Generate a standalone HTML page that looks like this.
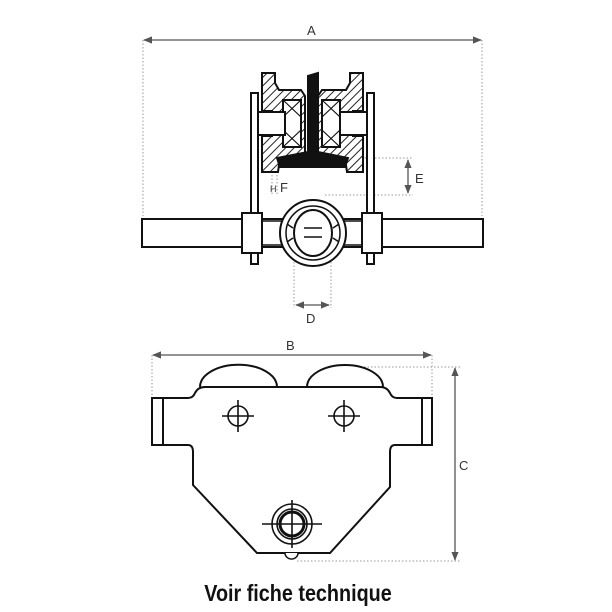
<!DOCTYPE html>
<html><head><style>body{margin:0;background:#fff}svg{display:block}</style></head><body>
<svg width="612" height="612" viewBox="0 0 612 612" xmlns="http://www.w3.org/2000/svg" font-family="Liberation Sans, sans-serif">
<defs>
<pattern id="h" width="6" height="6" patternUnits="userSpaceOnUse" patternTransform="rotate(45)"><rect width="6" height="6" fill="#fff"/><line x1="0" y1="0" x2="0" y2="6" stroke="#222" stroke-width="2"/></pattern>
<marker id="ar" viewBox="0 0 10 10" refX="9" refY="5" markerWidth="7" markerHeight="7" orient="auto-start-reverse"><path d="M0,1 L10,5 L0,9z" fill="#555"/></marker>
</defs>
<g fill="none" stroke="#999" stroke-width="1" stroke-dasharray="1.5,2">
<line x1="143" y1="40" x2="143" y2="216"/><line x1="482" y1="40" x2="482" y2="216"/>
<line x1="277" y1="158" x2="413" y2="158"/><line x1="325" y1="195" x2="413" y2="195"/>
<line x1="272" y1="168" x2="272" y2="195"/><line x1="277" y1="168" x2="277" y2="195"/>
<line x1="294" y1="262" x2="294" y2="308"/><line x1="331" y1="262" x2="331" y2="308"/>
<line x1="152" y1="355" x2="152" y2="398"/><line x1="432" y1="355" x2="432" y2="395"/>
<line x1="357" y1="367" x2="460" y2="367"/><line x1="297" y1="561" x2="460" y2="561"/>
</g>
<g stroke="#555" stroke-width="1.3" marker-start="url(#ar)" marker-end="url(#ar)">
<line x1="144" y1="40" x2="481" y2="40"/>
<line x1="408" y1="160" x2="408" y2="193"/>
<line x1="296" y1="305" x2="329" y2="305"/>
<line x1="153" y1="355" x2="431" y2="355"/>
<line x1="455" y1="368" x2="455" y2="560"/>
</g>
<g font-size="13" fill="#333">
<text x="307" y="35">A</text><text x="415" y="183">E</text><text x="280" y="192">F</text><text x="270" y="192" font-size="9">H</text>
<text x="306" y="323">D</text><text x="286" y="350">B</text><text x="459" y="470">C</text>
</g>
<g stroke="#111" stroke-width="2" fill="#fff">
<rect x="251" y="93" width="7" height="122"/><rect x="367" y="93" width="7" height="122"/>
<path d="M262,73 L275,73 L275,83 L279,90 L301,90 L305,96 L305,158 L280,158 L278,172 L262,172 L262,136 L272,136 L272,111 L262,111 Z" fill="url(#h)"/>
<path d="M363,73 L350,73 L350,83 L346,90 L322,90 L318,96 L318,158 L345,158 L347,172 L363,172 L363,136 L353,136 L353,111 L363,111 Z" fill="url(#h)"/>
<rect x="283" y="100" width="18" height="47"/><rect x="322" y="100" width="18" height="47"/>
<path d="M283,100 L301,117 M301,100 L283,117 M283,130 L301,147 M301,130 L283,147 M322,100 L340,117 M340,100 L322,117 M322,130 L340,147 M340,130 L322,147" stroke-width="1.2"/>
<rect x="258" y="112" width="27" height="23"/><rect x="340" y="112" width="27" height="23"/>
<path d="M308,76 L318,73 L318,152 L348,158 L345,167 L280,167 L277,158 L308,152 Z" fill="#111"/>
<rect x="142" y="219" width="341" height="28"/>
<rect x="262" y="221" width="20" height="24" stroke-width="1.5"/><rect x="343" y="221" width="20" height="24" stroke-width="1.5"/>
<rect x="242" y="213" width="20" height="40"/><rect x="362" y="213" width="20" height="40"/>
<rect x="251" y="253" width="7" height="11"/><rect x="367" y="253" width="7" height="11"/>
<circle cx="313" cy="233" r="33"/><circle cx="313" cy="233" r="27" stroke-width="1.5"/>
<ellipse cx="313" cy="233" rx="19" ry="23"/>
<path d="M304,228 L322,228 M304,237 L322,237 M287,224 L293,228 M287,242 L293,238 M339,224 L333,228 M339,242 L333,238" stroke-width="1.5"/>
<path d="M200,387 A38,22 0 0 1 277,387" /><path d="M307,387 A38,22 0 0 1 383,387"/>
<rect x="152" y="398" width="11" height="47"/><rect x="422" y="398" width="10" height="47"/>
<path d="M163,398 L188,398 Q193,398 195,393 Q198,387 205,387 L380,387 Q387,387 390,393 Q392,398 397,398 L422,398 M163,445 L188,445 Q193,445 193,452 L193,485 L257,553 L330,553 L390,487 L390,452 Q390,445 395,445 L422,445"/>
<path d="M285,553 A6.5,6 0 0 0 298,553" stroke-width="1.5"/>
<g stroke-width="1.6"><circle cx="238" cy="416" r="10"/><circle cx="344" cy="416" r="10"/>
<path d="M222,416 L254,416 M238,400 L238,432 M328,416 L360,416 M344,400 L344,432" fill="none"/>
<circle cx="292" cy="524" r="20"/><circle cx="292" cy="524" r="15"/></g>
<circle cx="292" cy="524" r="12" stroke-width="3"/>
<path d="M262,524 L322,524 M292,500 L292,548" stroke-width="1.6" fill="none"/>
</g>
<text x="298" y="601" text-anchor="middle" font-size="23" font-weight="bold" fill="#111" transform="translate(298,0) scale(0.86,1) translate(-298,0)">Voir fiche technique</text>
</svg>
</body></html>
